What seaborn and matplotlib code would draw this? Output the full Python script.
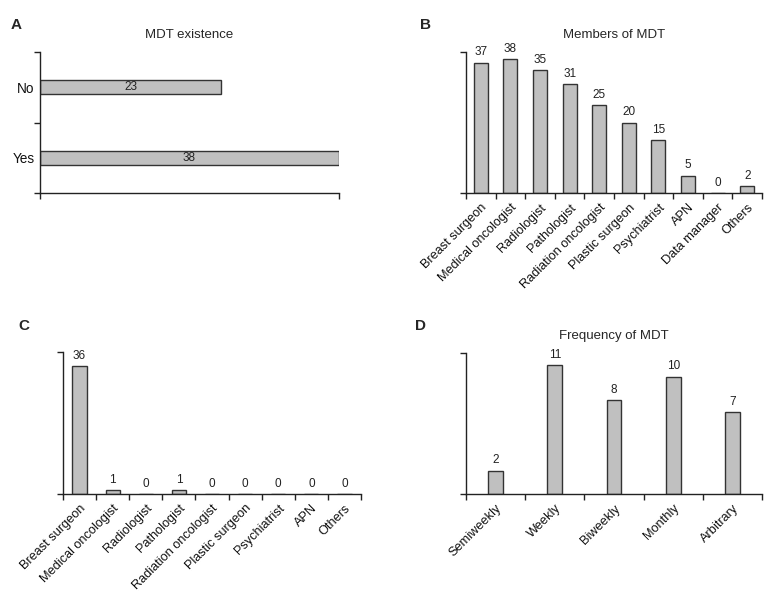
import matplotlib
matplotlib.use("Agg")
import matplotlib.pyplot as plt
import seaborn as sns
import pandas as pd
import numpy as np

sns.set_style("white")
plt.rcParams['font.family'] = ['Liberation Sans', 'DejaVu Sans']

# A: MDT existence
exist_cats = ["No", "Yes"]
exist_vals = [23, 38]

# B: members of MDT
member_cats = ["Breast surgeon", "Medical oncologist", "Radiologist", "Pathologist",
               "Radiation oncologist", "Plastic surgeon", "Psychiatrist", "APN",
               "Data manager", "Others"]
member_vals = [37, 38, 35, 31, 25, 20, 15, 5, 0, 2]

# C: (leader of MDT)
leader_cats = ["Breast surgeon", "Medical oncologist", "Radiologist", "Pathologist",
               "Radiation oncologist", "Plastic surgeon", "Psychiatrist", "APN", "Others"]
leader_vals = [36, 1, 0, 1, 0, 0, 0, 0, 0]

# D: frequency of MDT
freq_cats = ["Semiweekly", "Weekly", "Biweekly", "Monthly", "Arbitrary"]
freq_vals = [2, 11, 8, 10, 7]

bar_color = "#c0c0c0"
edge = "#333333"

fig = plt.figure(figsize=(7.81, 5.98), dpi=100)
axA = fig.add_axes([0.0512, 0.677, 0.3829, 0.236])
axB = fig.add_axes([0.5967, 0.677, 0.379, 0.236])
axC = fig.add_axes([0.0807, 0.1739, 0.3815, 0.2375])
axD = fig.add_axes([0.5967, 0.1739, 0.379, 0.2358])


def style_axes(ax):
    for s in ["top", "right"]:
        ax.spines[s].set_visible(False)
    for s in ["left", "bottom"]:
        ax.spines[s].set_color("#222222")
        ax.spines[s].set_linewidth(1.0)
    ax.tick_params(which="both", bottom=True, left=True, color="#222222",
                   width=1.0, length=4, direction="out")


def vbar(ax, cats, vals, ymax, width, title=None):
    df = pd.DataFrame({"cat": cats, "n": vals})
    sns.barplot(data=df, x="cat", y="n", ax=ax, color=bar_color, saturation=1,
                width=width, edgecolor=edge, linewidth=1.0, errorbar=None)
    ax.bar_label(ax.containers[0], padding=3, fontsize=8.5, color="#222222")
    n = len(cats)
    ax.set_xlim(-0.5, n - 0.5)
    ax.set_ylim(0, ymax)
    ax.set_xticks(np.arange(n))
    ax.set_xticklabels(cats, rotation=45, ha="right", rotation_mode="anchor",
                       fontsize=9.2, color="#111111")
    ax.set_xticks(np.arange(n + 1) - 0.5, minor=True)
    ax.set_yticks([0, ymax])
    ax.set_yticklabels([])
    ax.set_xlabel("")
    ax.set_ylabel("")
    style_axes(ax)
    ax.tick_params(axis="x", which="major", length=0, pad=6)
    if title:
        ax.set_title(title, fontsize=9.5, pad=10)


# A
dfA = pd.DataFrame({"cat": exist_cats, "n": exist_vals})
sns.barplot(data=dfA, y="cat", x="n", ax=axA, orient="h", color=bar_color, saturation=1,
            width=0.2, edgecolor=edge, linewidth=1.0, errorbar=None)
axA.bar_label(axA.containers[0], label_type="center", fontsize=8.5, color="#222222")
axA.set_ylim(1.5, -0.5)
axA.set_xlim(0, 38)
axA.set_yticks([0, 1])
axA.set_yticklabels(exist_cats, fontsize=9.8, color="#111111")
axA.set_yticks([-0.5, 0.5, 1.5], minor=True)
axA.set_xticks([0, 38])
axA.set_xticklabels([])
axA.set_xlabel("")
axA.set_ylabel("")
style_axes(axA)
axA.tick_params(axis="y", which="major", length=0, pad=4)
axA.set_title("MDT existence", fontsize=9.5, pad=10)

vbar(axB, member_cats, member_vals, 40, 0.47, "Members of MDT")
vbar(axC, leader_cats, leader_vals, 40, 0.43)
vbar(axD, freq_cats, freq_vals, 12, 0.25, "Frequency of MDT")

for lab, x, y in [("A", 0.014, 0.958), ("B", 0.538, 0.958), ("C", 0.023, 0.455), ("D", 0.531, 0.455)]:
    fig.text(x, y, lab, fontsize=11, fontweight="bold", va="center")

fig.savefig("out.png", dpi=100)
